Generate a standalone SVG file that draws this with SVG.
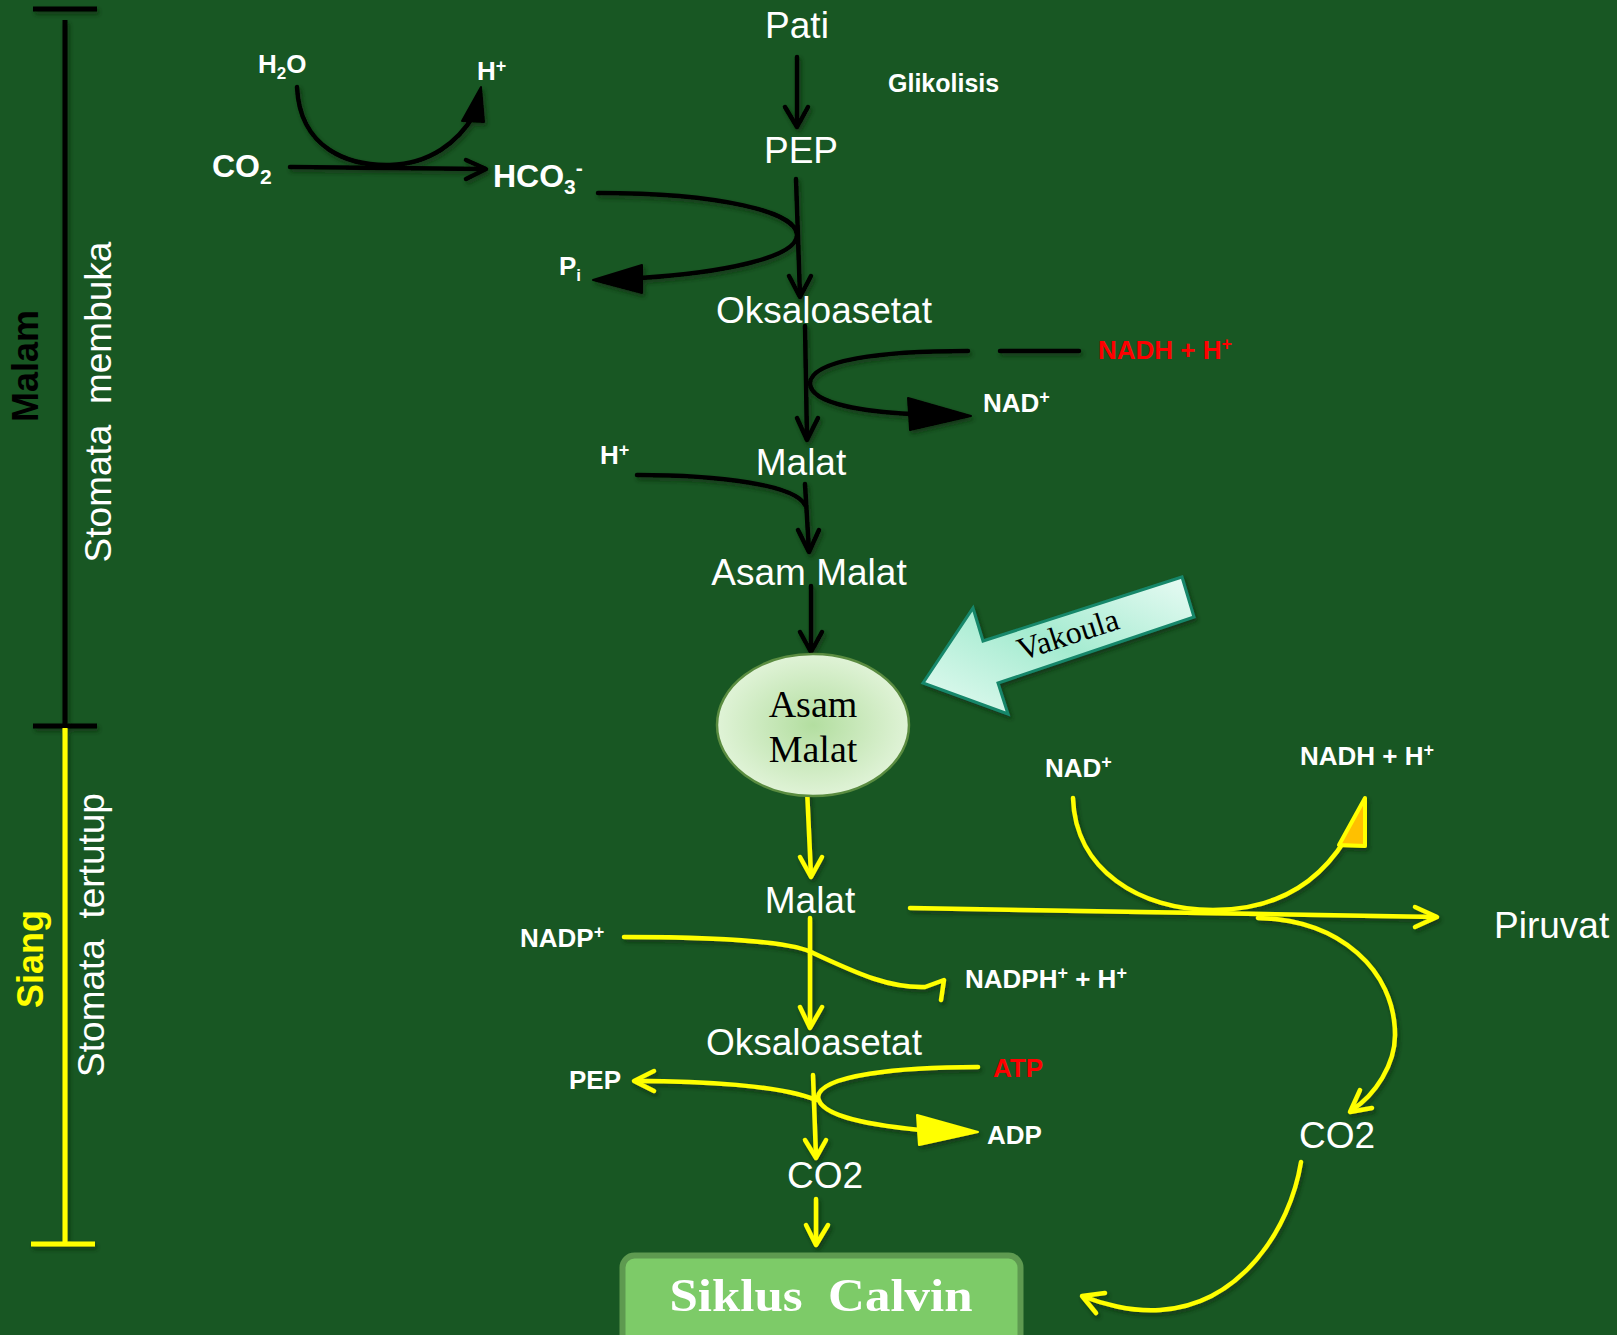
<svg xmlns="http://www.w3.org/2000/svg" width="1617" height="1335" viewBox="0 0 1617 1335">
<defs>
<style>
.t{font-family:"Liberation Sans",Arial,sans-serif;fill:#fff}
.lg{font-size:37px}
.b{font-weight:bold;font-size:26px}
.red{fill:#ff0000}
.k{stroke:#000;stroke-width:4.5;fill:none;stroke-linecap:round;stroke-linejoin:round}
.y{stroke:#ffff00;stroke-width:4.5;fill:none;stroke-linecap:round;stroke-linejoin:round}
.kf{fill:#000;stroke:#000;stroke-width:2;stroke-linejoin:round}
.yf{fill:#ffff00;stroke:#ffff00;stroke-width:2;stroke-linejoin:round}
.serif{font-family:"Liberation Serif","Times New Roman",serif}
</style>
<filter id="sh" x="-10%" y="-10%" width="130%" height="130%">
<feDropShadow dx="2" dy="3" stdDeviation="2" flood-color="#0a2a12" flood-opacity="0.7"/>
</filter>
<radialGradient id="eg" cx="0.5" cy="0.5" r="0.55">
<stop offset="0" stop-color="#b3dea0"/>
<stop offset="1" stop-color="#e4f5dc"/>
</radialGradient>
<linearGradient id="vg" x1="0" y1="1" x2="1" y2="0">
<stop offset="0" stop-color="#e6fbf2"/>
<stop offset="0.5" stop-color="#a4ebd0"/>
<stop offset="1" stop-color="#e9fbf4"/>
</linearGradient>
</defs>
<rect width="1617" height="1335" fill="#185723"/>

<!-- left time bar -->
<g id="timebar" filter="url(#sh)">
<line x1="33" y1="9" x2="97" y2="9" stroke="#000" stroke-width="5"/>
<line x1="65" y1="20" x2="65" y2="726" stroke="#000" stroke-width="5"/>
<line x1="33" y1="726" x2="97" y2="726" stroke="#000" stroke-width="5"/>
<line x1="65" y1="728" x2="65" y2="1243" stroke="#ffff00" stroke-width="5"/>
<line x1="31" y1="1244" x2="95" y2="1244" stroke="#ffff00" stroke-width="5"/>
</g>
<g id="labels-left">
<text class="t" transform="translate(38,366) rotate(-90)" text-anchor="middle" font-size="36" font-weight="bold" style="fill:#000">Malam</text>
<text class="t" transform="translate(111,402) rotate(-90)" text-anchor="middle" font-size="37" xml:space="preserve">Stomata  membuka</text>
<text class="t" transform="translate(43,959) rotate(-90)" text-anchor="middle" font-size="36" font-weight="bold" style="fill:#ffff00">Siang</text>
<text class="t" transform="translate(104,935) rotate(-90)" text-anchor="middle" font-size="37" xml:space="preserve">Stomata  tertutup</text>
</g>

<!-- connectors -->
<g id="connectors">
<g filter="url(#sh)">
<!-- black (night) -->
<path class="k" d="M297,87 C300,150 350,166 390,165 C430,164 458,142 474,115"/>
<polygon class="kf" points="481,87 462,121 484,122"/>
<line class="k" x1="290" y1="167" x2="485" y2="169"/>
<polyline class="k" points="466,160 486,169 466,179"/>
<line class="k" x1="797" y1="57" x2="797" y2="126"/>
<polyline class="k" points="785,107 797,127 808,107"/>
<line class="k" x1="796" y1="179" x2="800" y2="296"/>
<polyline class="k" points="789,276 800,297 811,276"/>
<path class="k" d="M598,193 C720,193 797,212 797,235 C797,258 720,273 640,278"/>
<polygon class="kf" points="593,280 642,265 642,293"/>
<line class="k" x1="805" y1="326" x2="807" y2="439"/>
<polyline class="k" points="797,418 807,440 818,418"/>
<path class="k" d="M968,351 C880,351 812,360 810,383 C810,405 870,412 912,414"/>
<polygon class="kf" points="971,416 908,398 910,430"/>
<line class="k" x1="1000" y1="351" x2="1079" y2="351"/>
<path class="k" d="M637,475 C720,475 795,485 805,505"/>
<line class="k" x1="805" y1="484" x2="809" y2="551"/>
<polyline class="k" points="798,530 809,552 819,530"/>
<line class="k" x1="811" y1="586" x2="811" y2="651"/>
<polyline class="k" points="800,632 811,652 822,632"/>
<!-- yellow (day) -->
<line class="y" x1="807" y1="789" x2="811" y2="876"/>
<polyline class="y" points="800,857 811,877 822,857"/>
<line class="y" x1="810" y1="918" x2="810" y2="1027"/>
<polyline class="y" points="800,1007 810,1028 822,1007"/>
<path class="y" d="M624,937 C720,937 790,942 811,952 C860,975 890,988 925,987 L944,980 L941,1000"/>
<path class="y" d="M978,1067 C900,1067 820,1075 818,1097 C820,1118 880,1126 920,1130"/>
<polygon class="yf" points="978,1132 917,1115 919,1145"/>
<path class="y" d="M816,1100 C780,1085 700,1081 636,1081"/>
<polyline class="y" points="654,1071 634,1081 654,1091"/>
<line class="y" x1="813" y1="1075" x2="816" y2="1157"/>
<polyline class="y" points="805,1140 816,1158 826,1140"/>
<line class="y" x1="816" y1="1199" x2="816" y2="1244"/>
<polyline class="y" points="806,1225 816,1245 828,1225"/>
<line class="y" x1="910" y1="908" x2="1436" y2="917"/>
<polyline class="y" points="1415,907 1437,917 1415,927"/>
<path class="y" d="M1073,798 C1075,870 1140,910 1213,910 C1280,910 1320,880 1345,840"/>
<polygon points="1365,798 1339,845 1365,846" fill="#ffc000" stroke="#ffff00" stroke-width="4" stroke-linejoin="round"/>
<path class="y" d="M1258,918 C1340,920 1395,970 1395,1035 C1395,1065 1375,1095 1352,1110"/>
<polyline class="y" points="1360,1090 1350,1112 1372,1108"/>
<path class="y" d="M1301,1162 C1290,1230 1240,1305 1160,1310 C1130,1312 1100,1303 1085,1297"/>
<polyline class="y" points="1105,1293 1082,1296 1096,1313"/>
</g>
</g>

<!-- nodes -->
<g id="n-h2o"><text class="t b" x="258" y="73">H<tspan font-size="17" dy="6">2</tspan><tspan dy="-6">O</tspan></text></g>
<g id="n-hplus1"><text class="t b" x="477" y="80">H<tspan font-size="18" dy="-8">+</tspan></text></g>
<g id="n-co2a"><text class="t" font-weight="bold" font-size="32" x="212" y="177">CO<tspan font-size="21" dy="7">2</tspan></text></g>
<g id="n-hco3"><text class="t" font-weight="bold" font-size="32" x="493" y="187">HCO<tspan font-size="21" dy="7">3</tspan><tspan font-size="21" dy="-19">-</tspan></text></g>
<g id="n-pi"><text class="t b" x="559" y="275">P<tspan font-size="17" dy="6">i</tspan></text></g>
<g id="n-pati"><text class="t lg" x="797" y="38" text-anchor="middle" font-size="36">Pati</text></g>
<g id="n-glikolisis"><text class="t" font-weight="bold" font-size="25" x="888" y="92">Glikolisis</text></g>
<g id="n-pep1"><text class="t lg" x="801" y="163" text-anchor="middle" font-size="36">PEP</text></g>
<g id="n-oaa1"><text class="t lg" x="824" y="323" text-anchor="middle">Oksaloasetat</text></g>
<g id="n-nadh1"><text class="t b red" x="1098" y="359">NADH + H<tspan font-size="18" dy="-9">+</tspan></text></g>
<g id="n-nad1"><text class="t b" x="983" y="412">NAD<tspan font-size="18" dy="-9">+</tspan></text></g>
<g id="n-hplus2"><text class="t b" x="600" y="464" font-size="24">H<tspan font-size="18" dy="-8">+</tspan></text></g>
<g id="n-malat1"><text class="t lg" x="801" y="475" text-anchor="middle">Malat</text></g>
<g id="n-asammalat"><text class="t lg" x="809" y="585" text-anchor="middle">Asam Malat</text></g>
<g id="n-vakuola-ellipse">
<ellipse cx="813" cy="725" rx="96" ry="71" fill="url(#eg)" stroke="#5a8c40" stroke-width="2.5"/>
<text class="serif" x="813" y="717" text-anchor="middle" font-size="38" fill="#000">Asam</text>
<text class="serif" x="813" y="762" text-anchor="middle" font-size="38" fill="#000">Malat</text>
</g>
<g id="n-vakoula">
<polygon points="923,683 973,608 983,641 1182,577 1194,617 998,683 1008,714" fill="url(#vg)" stroke="#16876a" stroke-width="3" stroke-linejoin="miter" filter="url(#sh)"/>
<text class="serif" transform="translate(1068,635) rotate(-18)" x="0" y="10" text-anchor="middle" font-size="32" fill="#000">Vakoula</text>
</g>
<g id="n-malat2"><text class="t lg" x="810" y="913" text-anchor="middle">Malat</text></g>
<g id="n-nadp"><text class="t b" x="520" y="947">NADP<tspan font-size="18" dy="-9">+</tspan></text></g>
<g id="n-nadph"><text class="t b" x="965" y="988">NADPH<tspan font-size="18" dy="-9">+</tspan><tspan dy="9"> + H</tspan><tspan font-size="18" dy="-9">+</tspan></text></g>
<g id="n-oaa2"><text class="t lg" x="814" y="1055" text-anchor="middle">Oksaloasetat</text></g>
<g id="n-atp"><text class="t b red" x="993" y="1077" font-size="25">ATP</text></g>
<g id="n-adp"><text class="t b" x="987" y="1144" font-size="25">ADP</text></g>
<g id="n-pep2"><text class="t b" x="569" y="1089" font-size="25">PEP</text></g>
<g id="n-co2b"><text class="t lg" x="825" y="1188" text-anchor="middle" font-size="36">CO2</text></g>
<g id="n-nad2"><text class="t b" x="1045" y="777">NAD<tspan font-size="18" dy="-9">+</tspan></text></g>
<g id="n-nadh2"><text class="t b" x="1300" y="765">NADH + H<tspan font-size="18" dy="-9">+</tspan></text></g>
<g id="n-piruvat"><text class="t lg" x="1494" y="938" font-size="36">Piruvat</text></g>
<g id="n-co2c"><text class="t lg" x="1337" y="1148" text-anchor="middle" font-size="36">CO2</text></g>
<g id="n-calvin">
<rect x="622.5" y="1255.5" width="398" height="100" rx="12" fill="#7dcb68" stroke="#5e9a50" stroke-width="6"/>
<text class="serif" x="821" y="1311" text-anchor="middle" font-size="46" font-weight="bold" fill="#fff" textLength="303" lengthAdjust="spacingAndGlyphs" xml:space="preserve">Siklus  Calvin</text>
</g>
</svg>
